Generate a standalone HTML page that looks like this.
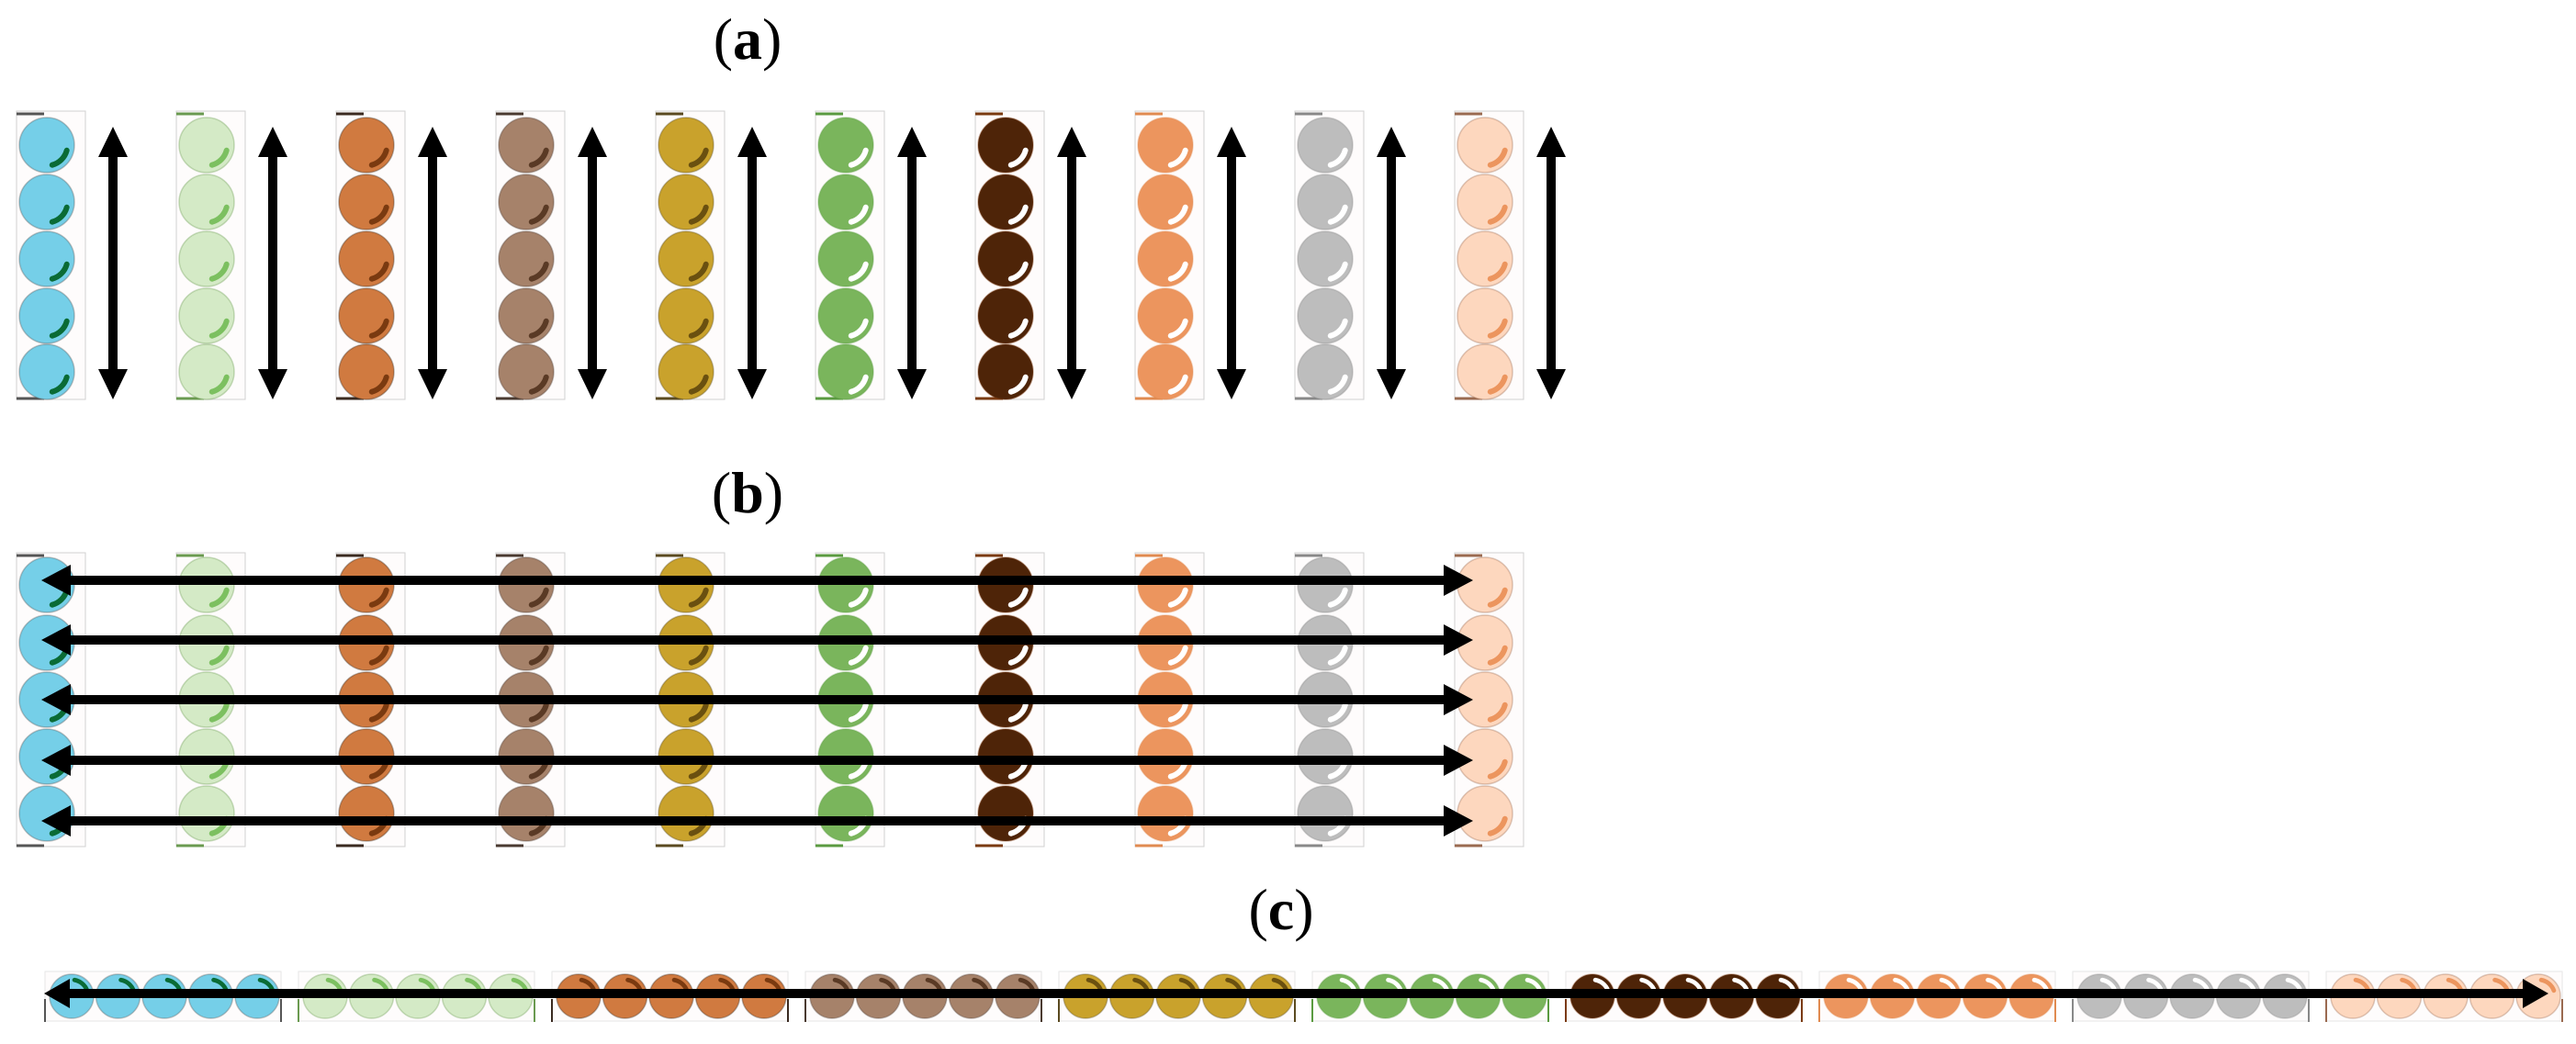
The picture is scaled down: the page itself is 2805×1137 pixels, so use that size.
<!DOCTYPE html>
<html><head><meta charset="utf-8"><style>
html,body{margin:0;padding:0;background:#fff;}
svg{display:block;}
text{font-family:"Liberation Serif",serif;font-size:64px;fill:#000;}
</style></head><body>
<svg id="s" width="2805" height="1137" viewBox="0 0 2805 1137" xmlns="http://www.w3.org/2000/svg">
<text x="814" y="64" text-anchor="middle">(<tspan font-weight="bold">a</tspan>)</text>
<text x="814" y="558" text-anchor="middle">(<tspan font-weight="bold">b</tspan>)</text>
<text x="1395" y="1012" text-anchor="middle">(<tspan font-weight="bold">c</tspan>)</text>
<g id="g"></g>
</svg>
<script>
var cols=[["#75cfe8","#0a6b35","#555"],["#d4eac6","#7cc060","#6a9a50"],["#d07a40","#7a3a10","#3a2a20"],["#a6826a","#5a3a25","#4a3a30"],["#c9a22c","#6a5010","#5a4a20"],["#7ab55c","#ffffff","#5a9a40"],["#4e2408","#ffffff","#7a3a10"],["#ec955e","#ffffff","#e08a50"],["#bdbdbd","#ffffff","#888"],["#fdd7be","#ec955e","#9a6a50"]];
var h="";
function circ(cx,cy,r,c,sh,tr){
 h+='<circle cx="'+cx+'" cy="'+cy+'" r="'+r+'" fill="'+c[0]+'" stroke="'+c[2]+'" stroke-opacity="0.35" stroke-width="1.5"/>';
 var a1=tr?-80:15,a2=tr?-20:75,rr=r*0.75;
 var x1=cx+rr*Math.cos(a1*Math.PI/180),y1=cy+rr*Math.sin(a1*Math.PI/180);
 var x2=cx+rr*Math.cos(a2*Math.PI/180),y2=cy+rr*Math.sin(a2*Math.PI/180);
 h+='<path d="M'+x1.toFixed(1)+' '+y1.toFixed(1)+' A'+rr+' '+rr+' 0 0 1 '+x2.toFixed(1)+' '+y2.toFixed(1)+'" fill="none" stroke="'+c[1]+'" stroke-width="'+(r*0.2)+'" stroke-linecap="round"/>';
}
function column(bx,top,bot,c,cys){
 h+='<rect x="'+bx+'" y="'+top+'" width="75" height="'+(bot-top)+'" fill="#fefcfc" stroke="#d0d0d0" stroke-width="1"/>';
 h+='<line x1="'+bx+'" y1="'+(top+3)+'" x2="'+(bx+30)+'" y2="'+(top+3)+'" stroke="'+c[2]+'" stroke-width="3"/>';
 h+='<line x1="'+bx+'" y1="'+(bot-1)+'" x2="'+(bx+30)+'" y2="'+(bot-1)+'" stroke="'+c[2]+'" stroke-width="3"/>';
 cys.forEach(function(cy){circ(bx+33,cy,30,c,false);});
}
for(var i=0;i<10;i++){
 var bx=18+i*174;
 column(bx,121,435,cols[i],[158,220,282,344,405]);
 var ax=bx+105;
 h+='<rect x="'+(ax-5)+'" y="165" width="10" height="245" fill="#000"/>';
 h+='<polygon points="'+ax+',138 '+(ax+16)+',171 '+(ax-16)+',171" fill="#000"/>';
 h+='<polygon points="'+ax+',435 '+(ax+16)+',402 '+(ax-16)+',402" fill="#000"/>';
}
for(var i=0;i<10;i++){
 column(18+i*174,602,922,cols[i],[637,700,762,824,886]);
}
[632,697,762,828,894].forEach(function(y){
 h+='<rect x="70" y="'+(y-5)+'" width="1505" height="10" fill="#000"/>';
 h+='<polygon points="45,'+y+' 77,'+(y-17)+' 77,'+(y+17)+'" fill="#000"/>';
 h+='<polygon points="1604,'+y+' 1572,'+(y-17)+' 1572,'+(y+17)+'" fill="#000"/>';
});
for(var i=0;i<10;i++){
 var bx=49+i*276,c=cols[i];
 h+='<rect x="'+bx+'" y="1058" width="257" height="54" fill="#fefcfc" stroke="#e6e6e6" stroke-width="1"/>';
 h+='<line x1="'+bx+'" y1="1088" x2="'+bx+'" y2="1113" stroke="'+c[2]+'" stroke-width="2"/>';
 h+='<line x1="'+(bx+257)+'" y1="1088" x2="'+(bx+257)+'" y2="1113" stroke="'+c[2]+'" stroke-width="2"/>';
 for(var k=0;k<5;k++) circ(bx+29+k*50.5,1085,24,c,true,true);
}
h+='<rect x="72" y="1077" width="2680" height="10" fill="#000"/>';
h+='<polygon points="48,1082 76,1066 76,1098" fill="#000"/>';
h+='<polygon points="2775,1082 2747,1066 2747,1098" fill="#000"/>';
document.getElementById("g").innerHTML=h;
</script>
</body></html>
